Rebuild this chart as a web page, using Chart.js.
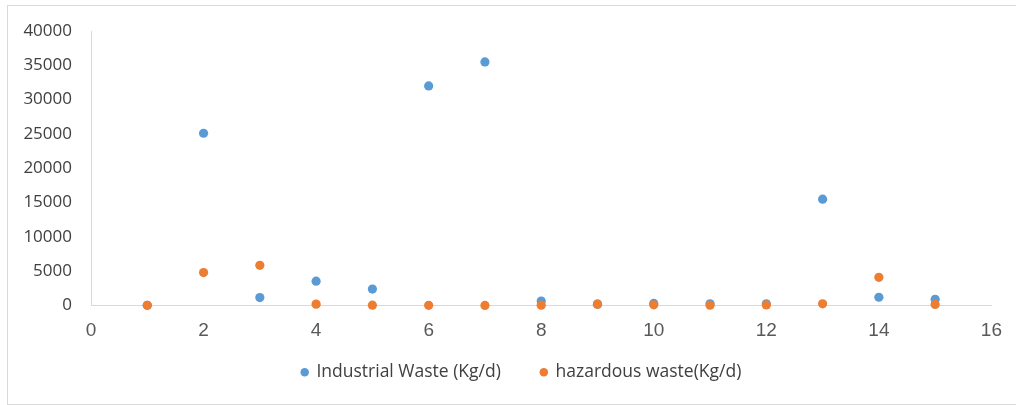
<!DOCTYPE html>
<html>
<head>
<meta charset="utf-8">
<script src="https://cdn.jsdelivr.net/npm/chart.js@4/dist/chart.umd.min.js"></script>
<style>
  html, body { margin: 0; padding: 0; background: #fff; overflow: hidden; }
  #wrap { position: relative; width: 1016px; height: 405px; }
  #frame { position: absolute; left: 7px; top: 5px; width: 1020px; height: 398px; border: 1px solid #d9d9d9; pointer-events: none; }
</style>
</head>
<body>
<div id="wrap">
  <canvas id="chart" width="1016" height="405"></canvas>
  <div id="frame"></div>
</div>
<script>
const xValues = [1, 2, 3, 4, 5, 6, 7, 8, 9, 10, 11, 12, 13, 14, 15];
const industrialWaste = [40, 25100, 1150, 3550, 2400, 32000, 35500, 650, 200, 300, 250, 250, 15500, 1200, 900];
const hazardousWaste = [30, 4800, 5850, 200, 50, 30, 10, 50, 200, 100, 50, 80, 250, 4100, 150];
const seriesNames = ['Industrial Waste (Kg/d)', 'hazardous waste(Kg/d)'];
const seriesColors = ['#5B9BD5', '#ED7D31'];

const toPoints = (ys) => xValues.map((x, i) => ({ x, y: ys[i] }));

// nudge the legend row to where the original sits
const legendOffset = {
  id: 'legendOffset',
  afterLayout(chart) {
    const lg = chart.legend;
    if (!lg) return;
    lg.left += 25;
    lg.right += 25;
    lg.top -= 14;
    lg.bottom -= 14;
  },
};

const ctx = document.getElementById('chart').getContext('2d');

new Chart(ctx, {
  type: 'scatter',
  data: {
    datasets: [
      {
        label: seriesNames[0],
        data: toPoints(industrialWaste),
        backgroundColor: seriesColors[0],
        borderColor: seriesColors[0],
        pointRadius: 4.6,
        borderWidth: 0,
        clip: false,
        order: 2,
      },
      {
        label: seriesNames[1],
        data: toPoints(hazardousWaste),
        backgroundColor: seriesColors[1],
        borderColor: seriesColors[1],
        pointRadius: 4.6,
        borderWidth: 0,
        clip: false,
        order: 1,
      },
    ],
  },
  plugins: [legendOffset],
  options: {
    responsive: false,
    animation: false,
    layout: {
      padding: { left: 0, right: 23, top: 31, bottom: 0 },
    },
    plugins: {
      tooltip: { enabled: false },
      legend: {
        display: true,
        position: 'bottom',
        labels: {
          usePointStyle: true,
          pointStyle: 'circle',
          boxWidth: 6,
          boxHeight: 6,
          padding: 40,
          color: '#404040',
          font: { family: 'Open Sans', size: 17.5 },
          sort: (a, b) => a.datasetIndex - b.datasetIndex,
        },
      },
    },
    scales: {
      x: {
        type: 'linear',
        min: 0,
        max: 16,
        ticks: {
          stepSize: 2,
          padding: 14,
          color: '#595959',
          font: { family: 'Liberation Sans', size: 19 },
        },
        grid: { display: false, drawTicks: false },
        border: { display: true, color: '#d9d9d9', width: 1 },
        afterFit(scale) {
          scale.height = 32;
        },
      },
      y: {
        min: 0,
        max: 40000,
        ticks: {
          stepSize: 5000,
          padding: 19,
          color: '#404040',
          font: { family: 'Open Sans', size: 17 },
          callback: (v) => String(v),
        },
        grid: { display: false, drawTicks: false },
        border: { display: true, color: '#d9d9d9', width: 1 },
        afterFit(scale) {
          scale.width = 91;
        },
      },
    },
  },
});
</script>
</body>
</html>
